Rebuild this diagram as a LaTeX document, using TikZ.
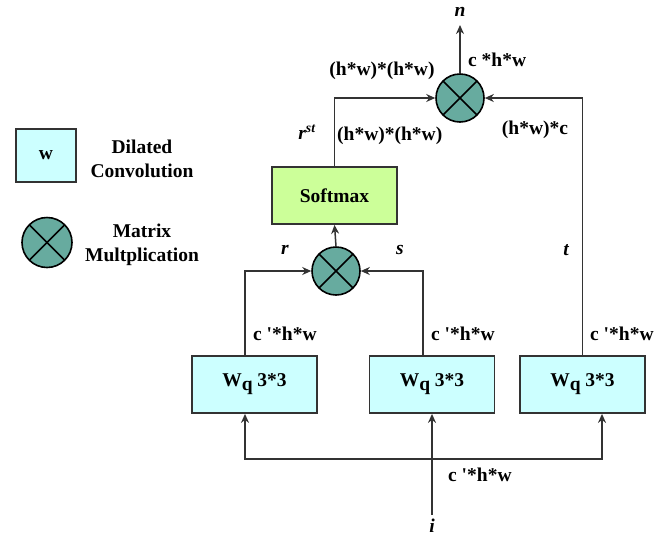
\documentclass[tikz,border=0pt]{standalone}
\usepackage{fontspec}
\setmainfont{Liberation Serif}
\usetikzlibrary{arrows.meta}
\definecolor{convfill}{HTML}{CCFFFF}
\definecolor{smfill}{HTML}{CCFF99}
\definecolor{multfill}{HTML}{67AB9F}
\definecolor{edge}{HTML}{333333}
\newcommand{\subq}{\raisebox{-0.45ex}{q}}
\newcommand{\cpr}{c \textquotesingle*h*w}
\begin{document}
\begin{tikzpicture}[x=1pt,y=-1pt,
  every node/.style={font=\fontsize{19.5}{22}\selectfont\bfseries},
  convbox/.style={draw=edge,line width=1.8pt,fill=convfill,minimum width=125pt,minimum height=57pt,inner sep=0pt},
  smbox/.style={draw=edge,line width=1.8pt,fill=smfill,minimum width=125pt,minimum height=57pt,inner sep=0pt},
  mult/.style={circle,draw=black,line width=1.6pt,fill=multfill,minimum size=48pt,inner sep=0pt,
    path picture={\draw[line width=1.6pt] (path picture bounding box.north west) -- (path picture bounding box.south east);
                  \draw[line width=1.6pt] (path picture bounding box.north east) -- (path picture bounding box.south west);}},
  arr/.style={draw=edge,line width=1.5pt,-{Stealth[length=9pt,width=8pt]}},
  lbl/.style={inner sep=0pt}]
\useasboundingbox (0,0) rectangle (668,536);

% legend
\node[convbox,minimum width=60pt,minimum height=53pt] (lgbox) at (46,155.5) {w};
\node[lbl,align=center] (lgconv) at (142,159) {Dilated\\[2pt]Convolution};
\node[mult,minimum size=50pt] (lgmult) at (47,242.5) {};
\node[lbl,align=center] (lgmulttxt) at (142,245) {Matrix\\[2pt]Multplication};

% main nodes
\node[mult] (m1) at (460,98) {};
\node[mult] (m2) at (336,271) {};
\node[smbox] (soft) at (334.5,195.5) {Softmax};
\node[convbox] (b1) at (254.5,384.5) {W\subq\ 3*3};
\node[convbox] (b2) at (432,384.5) {W\subq\ 3*3};
\node[convbox] (b3) at (582.5,384.5) {W\subq\ 3*3};

\coordinate (nout) at (460,25);
\coordinate (iin) at (432,515);
\coordinate (jn) at (432,459);

% connectors
\draw[arr] (m1.north) -- (nout);
\draw[arr] (soft.north) |- (m1.west);
\draw[arr] (b3.north) |- (m1.east);
\draw[arr] (m2.north) -- (soft.south);
\draw[arr] ([xshift=-9.5pt]b1.north) |- (m2.west);
\draw[arr] ([xshift=-9pt]b2.north) |- (m2.east);
\draw[arr] (iin) -- (b2.south);
\draw[arr] (jn) -| ([xshift=-9.5pt]b1.south);
\draw[arr] (jn) -| ([xshift=19.5pt]b3.south);

% labels
\node[lbl] (ln) at (460,12) {\itshape n};
\node[lbl,anchor=west] (lc1) at (468,60) {c *h*w};
\node[lbl] (lhw1) at (382,71) {(h*w)*(h*w)};
\node[lbl,anchor=west] (lhw2) at (337,136) {(h*w)*(h*w)};
\node[lbl] (lrst) at (307,132) {\itshape r\textsuperscript{st}};
\node[lbl] (lhwc) at (535,130) {(h*w)*c};
\node[lbl] (lr) at (285,250) {\itshape r};
\node[lbl] (ls) at (400,250) {\itshape s};
\node[lbl] (lt) at (566,250) {\itshape t};
\node[lbl,anchor=west] (lc2) at (253,334) {\cpr};
\node[lbl,anchor=west] (lc3) at (431,334) {\cpr};
\node[lbl,anchor=west] (lc4) at (590,334) {\cpr};
\node[lbl,anchor=west] (lc5) at (448,475) {\cpr};
\node[lbl] (li) at (432,526) {\itshape i};
\end{tikzpicture}
\end{document}
